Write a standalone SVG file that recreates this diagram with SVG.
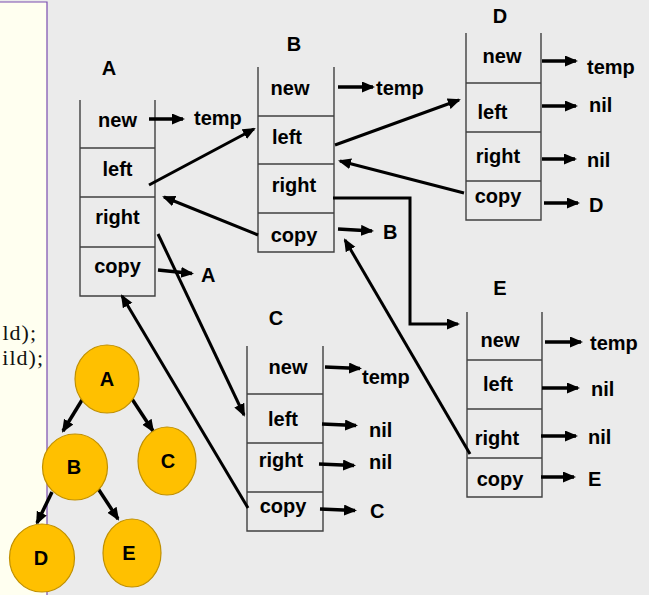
<svg xmlns="http://www.w3.org/2000/svg" width="649" height="595" viewBox="0 0 649 595">
  <defs>
    <marker id="head" markerUnits="userSpaceOnUse" markerWidth="14" markerHeight="12" refX="11" refY="5.5" orient="auto">
      <path d="M0,0 L13,5.5 L0,11 z" fill="#000"/>
    </marker>
    <clipPath id="panelClip"><rect x="0" y="0" width="47" height="595"/></clipPath>
    <style>
      .cell { fill: none; stroke: #404040; stroke-width: 1.4; }
      .lbl { font-family: "Liberation Sans", Arial, sans-serif; font-weight: bold; font-size: 20px; fill: #000; text-anchor: middle; }
      .val { font-family: "Liberation Sans", Arial, sans-serif; font-weight: bold; font-size: 20px; fill: #000; }
      .ptr { stroke: #000; stroke-width: 3.5; fill: none; marker-end: url(#head); }
      .link { stroke: #000; stroke-width: 3; fill: none; marker-end: url(#head); }
      .tnode { fill: #FFC000; stroke: #C09000; stroke-width: 1.2; }
      .tlbl { font-family: "Liberation Sans", Arial, sans-serif; font-weight: bold; font-size: 20px; fill: #000; text-anchor: middle; }
      .code { font-family: "Liberation Serif", "Times New Roman", serif; font-size: 22px; letter-spacing: 1px; fill: #111; text-anchor: end; }
    </style>
  </defs>

  <!-- background -->
  <rect x="0" y="0" width="649" height="595" fill="#EBEBEB"/>

  <!-- code panel on the left edge -->
  <g id="code-panel">
    <rect x="0" y="2" width="47" height="593" fill="#FFFFF0"/>
    <path d="M0,2 H47 V595" fill="none" stroke="#7A4DB0" stroke-width="1.2"/>
    <g clip-path="url(#panelClip)">
      <text class="code" x="37" y="340">ld);</text>
      <text class="code" x="44" y="365">ild);</text>
    </g>
  </g>

  <!-- record A -->
  <g id="node-A">
    <path class="cell" d="M80,100 V296 H155 V100 M80,148 H155 M80,197 H155 M80,247 H155"/>
    <text class="lbl" x="109" y="75">A</text>
    <text class="lbl" x="117.5" y="127">new</text>
    <text class="lbl" x="117.5" y="176">left</text>
    <text class="lbl" x="117.5" y="224">right</text>
    <text class="lbl" x="117.5" y="273">copy</text>
    <line class="ptr" x1="149" y1="119" x2="183" y2="119"/>
    <text class="val" x="194" y="125">temp</text>
    <line class="ptr" x1="158" y1="270" x2="192" y2="273.5"/>
    <text class="val" x="201" y="282">A</text>
  </g>

  <!-- record B -->
  <g id="node-B">
    <path class="cell" d="M258,67 V252 H334 V67 M258,116 H334 M258,164 H334 M258,213 H334"/>
    <text class="lbl" x="294" y="51">B</text>
    <text class="lbl" x="290" y="95">new</text>
    <text class="lbl" x="287" y="144">left</text>
    <text class="lbl" x="294" y="192">right</text>
    <text class="lbl" x="294" y="242">copy</text>
    <line class="ptr" x1="338" y1="87" x2="373" y2="87"/>
    <text class="val" x="376" y="95">temp</text>
    <line class="ptr" x1="338" y1="229" x2="372" y2="231"/>
    <text class="val" x="383" y="239">B</text>
  </g>

  <!-- record C -->
  <g id="node-C">
    <path class="cell" d="M247,346 V531 H323 V346 M247,394 H323 M247,443 H323 M247,492 H323"/>
    <text class="lbl" x="276" y="325">C</text>
    <text class="lbl" x="288" y="374">new</text>
    <text class="lbl" x="283" y="426">left</text>
    <text class="lbl" x="281" y="467">right</text>
    <text class="lbl" x="283" y="513">copy</text>
    <line class="ptr" x1="325" y1="367" x2="360" y2="368.5"/>
    <text class="val" x="362" y="384">temp</text>
    <line class="ptr" x1="322" y1="424" x2="356" y2="425.5"/>
    <text class="val" x="369" y="437">nil</text>
    <line class="ptr" x1="319" y1="464" x2="354" y2="465.5"/>
    <text class="val" x="369" y="469">nil</text>
    <line class="ptr" x1="320" y1="509" x2="355" y2="510.5"/>
    <text class="val" x="370" y="518">C</text>
  </g>

  <!-- record D -->
  <g id="node-D">
    <path class="cell" d="M466,33 V220 H541 V33 M466,83 H541 M466,132 H541 M466,181 H541"/>
    <text class="lbl" x="500" y="23">D</text>
    <text class="lbl" x="502" y="63">new</text>
    <text class="lbl" x="492.5" y="119">left</text>
    <text class="lbl" x="498" y="163">right</text>
    <text class="lbl" x="498" y="203">copy</text>
    <line class="ptr" x1="542" y1="61" x2="576" y2="61"/>
    <text class="val" x="587" y="74">temp</text>
    <line class="ptr" x1="542" y1="106" x2="576" y2="106"/>
    <text class="val" x="589" y="112">nil</text>
    <line class="ptr" x1="542" y1="159" x2="575" y2="159"/>
    <text class="val" x="587" y="167">nil</text>
    <line class="ptr" x1="544" y1="203" x2="578" y2="203"/>
    <text class="val" x="589" y="212">D</text>
  </g>

  <!-- record E -->
  <g id="node-E">
    <path class="cell" d="M467,312 V497 H542 V312 M467,360 H542 M467,409 H542 M467,458 H542"/>
    <text class="lbl" x="500" y="295">E</text>
    <text class="lbl" x="500" y="347">new</text>
    <text class="lbl" x="498" y="391">left</text>
    <text class="lbl" x="497" y="445">right</text>
    <text class="lbl" x="500" y="486">copy</text>
    <line class="ptr" x1="545" y1="342" x2="581" y2="342"/>
    <text class="val" x="590" y="350">temp</text>
    <line class="ptr" x1="542" y1="388" x2="578" y2="388"/>
    <text class="val" x="591" y="396">nil</text>
    <line class="ptr" x1="541" y1="436" x2="576" y2="436"/>
    <text class="val" x="588" y="444">nil</text>
    <line class="ptr" x1="541" y1="477" x2="574" y2="477"/>
    <text class="val" x="588" y="486">E</text>
  </g>

  <!-- pointers between records -->
  <g id="connectors">
    <line class="link" x1="149" y1="185" x2="254" y2="129"/>
    <line class="link" x1="258" y1="235" x2="164" y2="197"/>
    <line class="link" x1="335" y1="145" x2="459" y2="100"/>
    <line class="link" x1="464" y1="193" x2="340" y2="161"/>
    <polyline class="link" points="333,198 410,198 410,324 458,324"/>
    <line class="link" x1="470" y1="454" x2="345" y2="240"/>
    <line class="link" x1="158" y1="234" x2="244" y2="415"/>
    <line class="link" x1="248" y1="508" x2="122" y2="296"/>
  </g>

  <!-- binary tree -->
  <g id="tree-edges">
    <line class="ptr" x1="82" y1="400" x2="63" y2="431"/>
    <line class="ptr" x1="132" y1="399" x2="153" y2="431"/>
    <line class="ptr" x1="52" y1="492" x2="37" y2="523"/>
    <line class="ptr" x1="97" y1="487" x2="118" y2="519"/>
  </g>
  <g id="tree-A"><ellipse class="tnode" cx="107" cy="379" rx="32" ry="34"/><text class="tlbl" x="107" y="386">A</text></g>
  <g id="tree-B"><ellipse class="tnode" cx="75" cy="467" rx="32.5" ry="33"/><text class="tlbl" x="74" y="474">B</text></g>
  <g id="tree-C"><ellipse class="tnode" cx="167" cy="461" rx="29" ry="34"/><text class="tlbl" x="168" y="468">C</text></g>
  <g id="tree-D"><ellipse class="tnode" cx="42" cy="558" rx="32.5" ry="34"/><text class="tlbl" x="41" y="565">D</text></g>
  <g id="tree-E"><ellipse class="tnode" cx="132" cy="553" rx="29" ry="34"/><text class="tlbl" x="129" y="560">E</text></g>
</svg>
